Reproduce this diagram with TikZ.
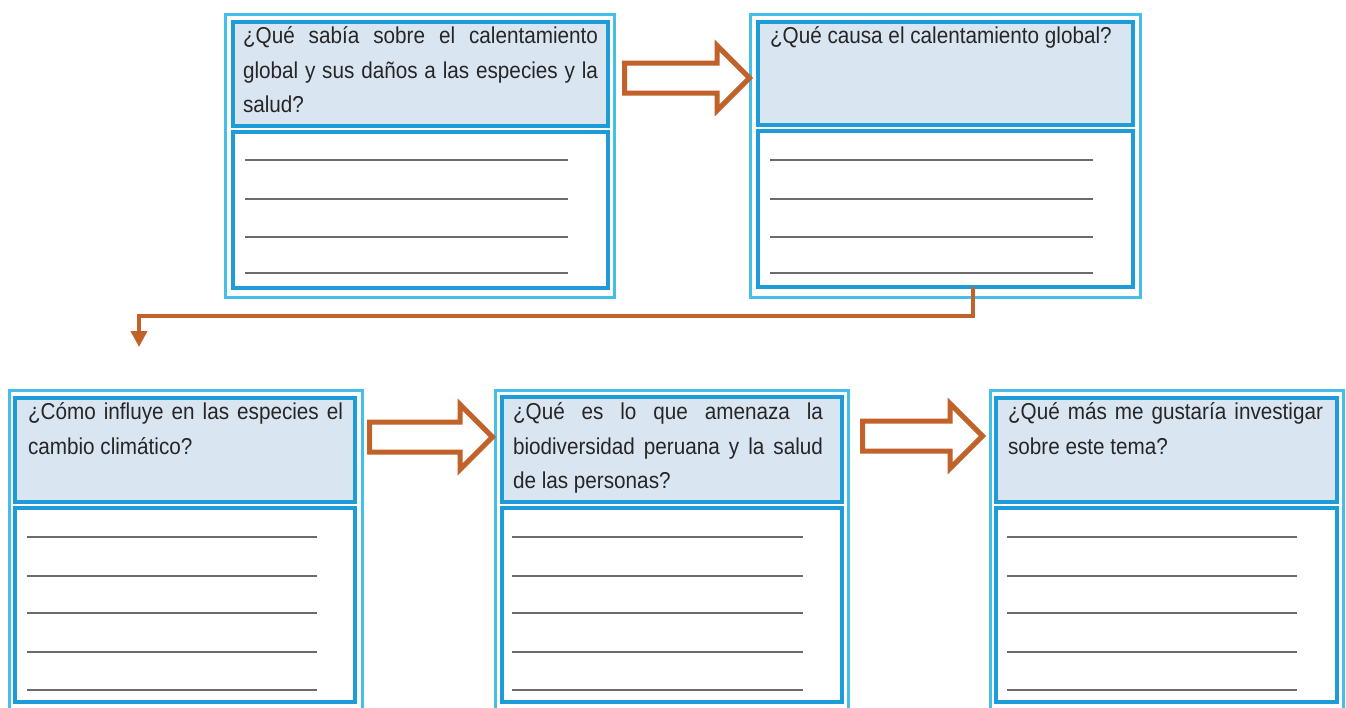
\documentclass[tikz,border=0pt]{standalone}
\usepackage{fontspec}
\setmainfont{Liberation Sans}[FakeStretch=0.9]
\usepackage{tikz}
\usetikzlibrary{shapes.arrows, arrows.meta}
\definecolor{framecyan}{HTML}{45BEE9}
\definecolor{edgeblue}{HTML}{1E9CD7}
\definecolor{headfill}{HTML}{DAE5F2}
\definecolor{arroworange}{HTML}{C1622B}
\definecolor{rulegray}{HTML}{6B6B6B}
\definecolor{textgray}{HTML}{262626}
\tikzset{
    every node/.style={anchor=north west, inner sep=0pt, outer sep=0pt}
}
\tikzset{
    frame/.style={draw=framecyan, line width=3pt},
    head/.style={draw=edgeblue, fill=headfill, line width=4pt},
    body/.style={draw=edgeblue, fill=white, line width=4pt},
    question/.style={text=textgray, align=justify,
    	font=\fontsize{23}{34.5}\selectfont,
    	execute at begin node={\hyphenpenalty=10000\relax\exhyphenpenalty=10000\relax}},
    blockarrow/.style={single arrow, draw=arroworange, fill=white,
    	line width=5pt, anchor=west, inner sep=12.5pt,
    	single arrow head extend=17.5pt, minimum height=125pt},
    link/.style={draw=arroworange, line width=4pt},
    rule/.style={draw=rulegray, line width=2pt}
}

\begin{document}
\begin{tikzpicture}[x=1pt, y=-1pt]
  \useasboundingbox [fill=white] (0,0) rectangle (1346,707);

  % upper row
  \node (q1frame) [frame, minimum width=389pt, minimum height=283pt] at (225,14) {};
  \node (q1head) [head, minimum width=375pt, minimum height=104pt] at (233,22) {};
  \node (q1body) [body, minimum width=375pt, minimum height=156pt] at (233,132) {};
  \node (q1text) [question, text width=355pt] at (243,27) {¿Qué sabía sobre el calentamiento global y sus daños a las especies y la salud?};

  \node (q2frame) [frame, minimum width=390pt, minimum height=283pt] at (750,14) {};
  \node (q2head) [head, minimum width=375pt, minimum height=103pt] at (758,22) {};
  \node (q2body) [body, minimum width=375pt, minimum height=156pt] at (758,131) {};
  \node (q2text) [question, text width=355pt] at (770,27) {¿Qué causa el calentamiento global?};

  % lower row
  \node (q3frame) [frame, minimum width=353pt, minimum height=320pt] at (9,390) {};
  \node (q3head) [head, minimum width=340pt, minimum height=104pt] at (15,398) {};
  \node (q3body) [body, minimum width=340pt, minimum height=194pt] at (15,508) {};
  \node (q3text) [question, text width=315pt] at (28,403) {¿Cómo influye en las especies el cambio climático?};

  \node (q4frame) [frame, minimum width=353pt, minimum height=320pt] at (495,390) {};
  \node (q4head) [head, minimum width=340pt, minimum height=105pt] at (502,397) {};
  \node (q4body) [body, minimum width=340pt, minimum height=194pt] at (502,508) {};
  \node (q4text) [question, text width=310pt] at (513,403) {¿Qué es lo que amenaza la biodiversidad peruana y la salud de las personas?};

  \node (q5frame) [frame, minimum width=353pt, minimum height=320pt] at (990,390) {};
  \node (q5head) [head, minimum width=341pt, minimum height=104pt] at (996,398) {};
  \node (q5body) [body, minimum width=341pt, minimum height=194pt] at (996,508) {};
  \node (q5text) [question, text width=315pt] at (1008,403) {¿Qué más me gustaría investigar sobre este tema?};

  % writing lines
  \foreach \y in {160,199,237,273} {
    \draw [rule] (245,\y) -- (568,\y);
    \draw [rule] (770,\y) -- (1093,\y);
  }
  \foreach \y in {537,576,613,652,690} {
    \draw [rule] (27,\y) -- (317,\y);
    \draw [rule] (512,\y) -- (803,\y);
    \draw [rule] (1007,\y) -- (1297,\y);
  }

  % block arrows
  \node (a12) [blockarrow] at (624.5,78) {};
  \node (a34) [blockarrow, minimum height=123pt] at (369.5,437) {};
  \node (a45) [blockarrow, minimum height=120pt] at (862.5,436) {};

  % elbow link
  \coordinate (drop) at (139,347);
  \draw [link, -{Triangle[length=16pt, width=16pt]}]
    ([xshift=27pt]q2body.south) -- ++(0,29) -| (drop);
\end{tikzpicture}
\end{document}
